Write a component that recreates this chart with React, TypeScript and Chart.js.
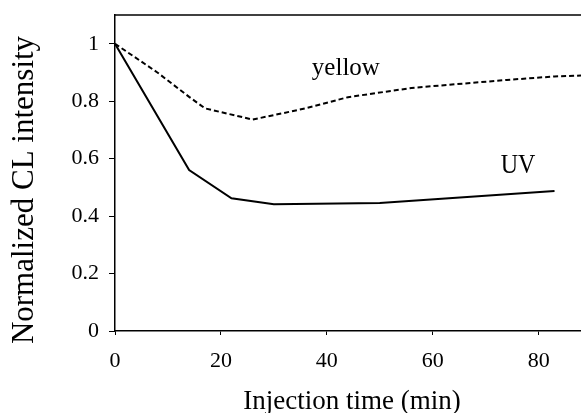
import React, { useEffect, useRef } from "react";
import { Chart, registerables } from "chart.js";

Chart.register(...registerables);

// Data
const uvTimes = [0, 14, 22, 30, 50, 83];
const uvValues = [1.0, 0.56, 0.462, 0.441, 0.446, 0.487];

const yellowTimes = [0, 8, 14, 17, 26, 36, 44, 56, 74, 83, 88];
const yellowValues = [1.0, 0.9, 0.815, 0.775, 0.736, 0.775, 0.814, 0.846, 0.874, 0.886, 0.889];

const xTickValues = [0, 20, 40, 60, 80];
const yTickValues = [0, 0.2, 0.4, 0.6, 0.8, 1];

const seriesNames = ["UV", "yellow"];
const xTitle = "Injection time (min)";
const yTitle = "Normalized CL intensity";

const FONT = "'Liberation Serif', 'Times New Roman', Times, serif";

const W = 581;
const H = 413;

export default function App() {
  const ref = useRef<HTMLCanvasElement | null>(null);

  useEffect(() => {
    document.body.style.margin = "0";
    const canvas = ref.current;
    if (!canvas) return;

    const textPlugin = {
      id: "chartTexts",
      afterDatasetsDraw(chart: any) {
        const { ctx, scales } = chart;
        const xs = scales.x;
        const ys = scales.y;
        ctx.save();
        ctx.fillStyle = "#000";
        ctx.textAlign = "center";
        ctx.textBaseline = "alphabetic";
        ctx.font = `25px ${FONT}`;
        ctx.fillText(seriesNames[1], xs.getPixelForValue(43.6), ys.getPixelForValue(0.89));
        ctx.save();
        ctx.translate(xs.getPixelForValue(76.1), ys.getPixelForValue(0.55));
        ctx.scale(1, 1.15);
        ctx.font = `24px ${FONT}`;
        ctx.fillText(seriesNames[0], 0, 0);
        ctx.restore();
        ctx.restore();
      },
      afterDraw(chart: any) {
        const { ctx, chartArea } = chart;
        ctx.save();
        // top frame line
        ctx.strokeStyle = "#000";
        ctx.lineWidth = 1.5;
        ctx.beginPath();
        ctx.moveTo(chartArea.left, chartArea.top);
        ctx.lineTo(chartArea.right, chartArea.top);
        ctx.stroke();

        ctx.fillStyle = "#000";
        ctx.textAlign = "center";
        ctx.textBaseline = "alphabetic";
        // x axis title
        ctx.font = `27px ${FONT}`;
        ctx.fillText(xTitle, 352, 409);
        // y axis title
        ctx.save();
        ctx.translate(33, 190);
        ctx.rotate(-Math.PI / 2);
        ctx.font = `31px ${FONT}`;
        ctx.fillText(yTitle, 0, 0);
        ctx.restore();

        ctx.restore();
      },
    };

    const chart = new Chart(canvas, {
      type: "line",
      data: {
        datasets: [
          {
            label: seriesNames[0],
            data: uvTimes.map((t, i) => ({ x: t, y: uvValues[i] })),
            borderColor: "#000",
            borderWidth: 2,
            pointRadius: 0,
            tension: 0,
            fill: false,
          },
          {
            label: seriesNames[1],
            data: yellowTimes.map((t, i) => ({ x: t, y: yellowValues[i] })),
            borderColor: "#000",
            borderWidth: 2,
            borderDash: [5, 3],
            pointRadius: 0,
            tension: 0,
            fill: false,
          },
        ],
      },
      options: {
        animation: false,
        responsive: false,
        maintainAspectRatio: false,
        layout: { padding: { top: 15, right: 0, left: 0, bottom: 0 } },
        plugins: {
          legend: { display: false },
          tooltip: { enabled: false },
        },
        scales: {
          x: {
            type: "linear",
            min: 0,
            max: 88,
            afterBuildTicks: (scale: any) => {
              scale.ticks = xTickValues.map((v) => ({ value: v }));
            },
            afterFit: (scale: any) => {
              scale.height = 82;
              scale.paddingLeft = 0;
              scale.paddingRight = 0;
            },
            ticks: {
              color: "#000",
              font: { family: FONT, size: 22 },
              padding: 13,
              maxRotation: 0,
              callback: (v: any) => String(v),
            },
            grid: {
              display: true,
              drawOnChartArea: false,
              drawTicks: true,
              tickLength: 4,
              tickColor: "#000",
              tickWidth: 1,
            },
            border: { display: true, color: "#000", width: 1.5 },
          },
          y: {
            type: "linear",
            min: 0,
            max: 1.1,
            afterBuildTicks: (scale: any) => {
              scale.ticks = yTickValues.map((v) => ({ value: v }));
            },
            afterFit: (scale: any) => {
              scale.width = 115;
              scale.paddingTop = 0;
              scale.paddingBottom = 0;
            },
            ticks: {
              color: "#000",
              font: { family: FONT, size: 22 },
              padding: 10,
              callback: (v: any) => String(Math.round(v * 10) / 10),
            },
            grid: {
              display: true,
              drawOnChartArea: false,
              drawTicks: true,
              tickLength: 6,
              tickColor: "#000",
              tickWidth: 1,
            },
            border: { display: true, color: "#000", width: 1.5 },
          },
        },
      },
      plugins: [textPlugin],
    } as any);

    return () => {
      chart.destroy();
    };
  }, []);

  return (
    <div style={{ width: W, height: H, background: "#fff" }}>
      <canvas ref={ref} width={W} height={H} style={{ display: "block" }} />
    </div>
  );
}
